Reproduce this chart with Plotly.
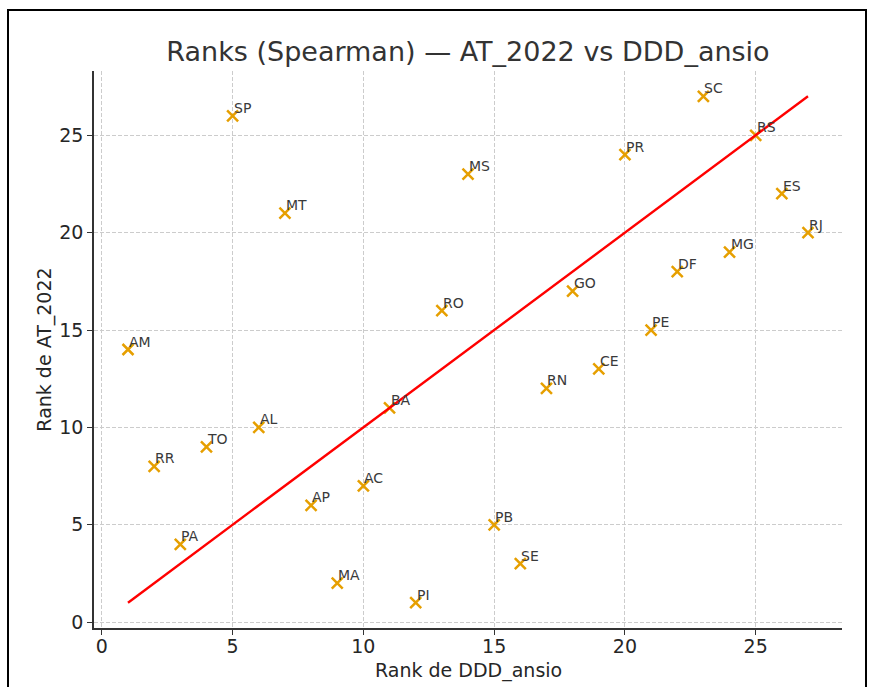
import plotly.graph_objects as go

states = ["SP", "MT", "MS", "SC", "RS", "PR", "ES", "RJ", "MG", "DF", "GO", "RO", "PE", "AM",
          "CE", "RN", "BA", "AL", "TO", "RR", "AC", "AP", "PB", "PA", "SE", "MA", "PI"]
rank_ddd = [5, 7, 14, 23, 25, 20, 26, 27, 24, 22, 18, 13, 21, 1,
            19, 17, 11, 6, 4, 2, 10, 8, 15, 3, 16, 9, 12]
rank_at = [26, 21, 23, 27, 25, 24, 22, 20, 19, 18, 17, 16, 15, 14,
           13, 12, 11, 10, 9, 8, 7, 6, 5, 4, 3, 2, 1]
line_x = [1, 27]
line_y = [1, 27]

FONT = "DejaVu Sans"

fig = go.Figure()
fig.add_trace(go.Scatter(
    x=rank_ddd, y=rank_at, mode="markers",
    marker=dict(symbol="x-thin", size=11, color="#E69F00",
                line=dict(color="#E69F00", width=2.5)),
    showlegend=False, hoverinfo="skip"))
fig.add_trace(go.Scatter(
    x=line_x, y=line_y, mode="lines",
    line=dict(color="#ff0000", width=2.4), showlegend=False, hoverinfo="skip"))

annotations = []
for s, xv, yv in zip(states, rank_ddd, rank_at):
    annotations.append(dict(
        x=xv, y=yv, xref="x", yref="y", text=s, showarrow=False,
        xanchor="left", yanchor="bottom", xshift=-1, yshift=-2,
        font=dict(family=FONT, size=14, color="#3a3a3a")))

# x-axis title placed explicitly below the tick labels
annotations.append(dict(
    x=0.5, y=(628 - 670) / 557, xref="paper", yref="paper",
    text="Rank de DDD_ansio", showarrow=False,
    xanchor="center", yanchor="middle",
    font=dict(family=FONT, size=19, color="#262626")))

axis_common = dict(
    showline=True, linecolor="#333333", linewidth=1.5,
    ticks="outside", ticklen=5, tickwidth=1.2, tickcolor="#333333",
    showgrid=True, gridcolor="#cccccc", griddash="4px,2px", gridwidth=1,
    zeroline=False, dtick=5, tick0=0, automargin=False,
    tickfont=dict(family=FONT, size=19, color="#262626"),
)

fig.update_layout(
    width=869, height=687,
    margin=dict(l=94, r=27, t=71, b=59, autoexpand=False),
    paper_bgcolor="white", plot_bgcolor="white",
    font=dict(family=FONT),
    title=dict(text="Ranks (Spearman) — AT_2022 vs DDD_ansio",
               x=(94 + 842) / 2 / 869, xanchor="center",
               y=1 - 52 / 687, yanchor="middle", yref="container",
               font=dict(family=FONT, size=27, color="#333333")),
    xaxis=dict(range=[-0.3, 28.3], ticklabelstandoff=-5, **axis_common),
    yaxis=dict(range=[-0.3, 28.3],
               title=dict(text="Rank de AT_2022", standoff=3,
                          font=dict(family=FONT, size=19, color="#262626")),
               **axis_common),
    annotations=annotations,
    shapes=[dict(type="rect", xref="paper", yref="paper",
                 x0=(8 - 94) / 748, x1=(866 - 94) / 748,
                 y0=-0.3, y1=(628 - 10) / 557,
                 line=dict(color="black", width=2), fillcolor="rgba(0,0,0,0)",
                 layer="above")],
)

fig.write_html("out.html")
